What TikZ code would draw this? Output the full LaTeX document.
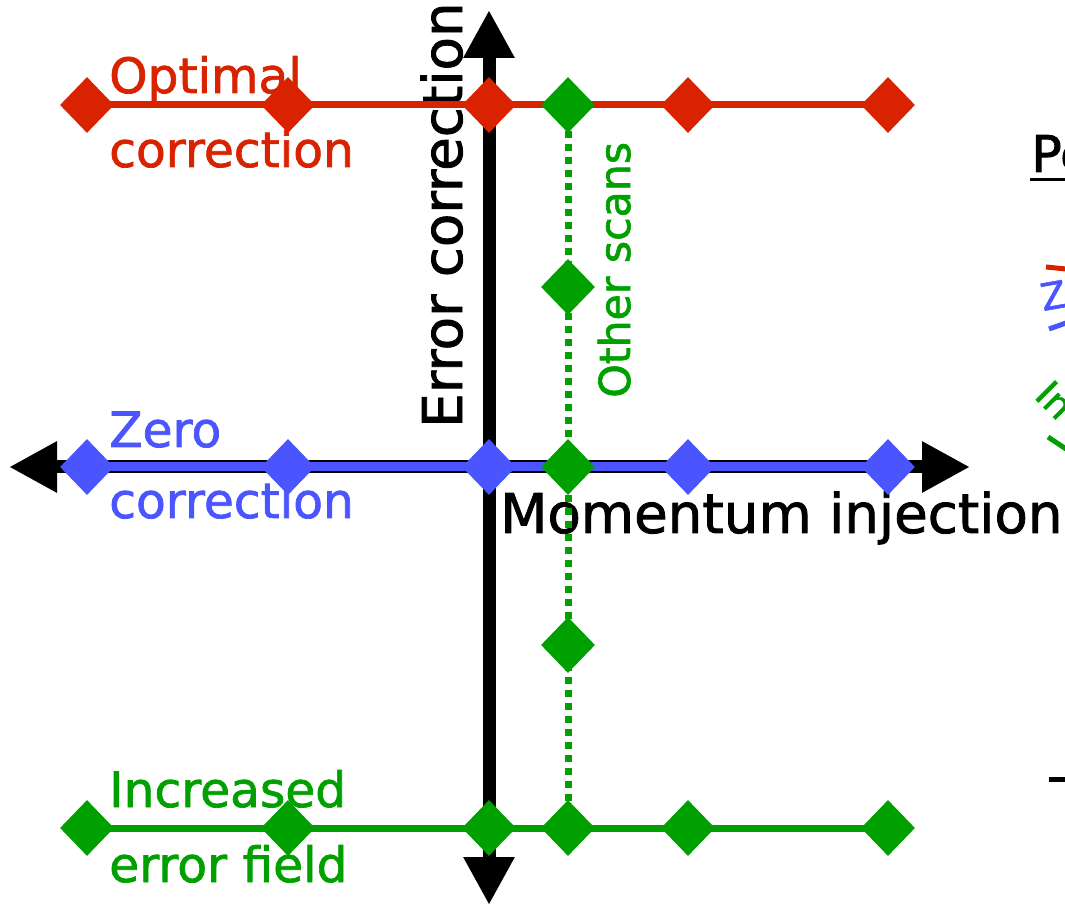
\documentclass[tikz,border=0pt]{standalone}
\usepackage{fontspec}
\setmainfont{DejaVu Sans}[FakeBold=1.5]
\usetikzlibrary{arrows.meta,shapes.geometric}
\definecolor{ored}{RGB}{217,34,0}
\definecolor{oblue}{RGB}{74,84,255}
\definecolor{ogreen}{RGB}{0,160,0}
\tikzset{
  dia/.style={shape=diamond, fill=#1, draw=none, minimum width=40.5pt, minimum height=42pt, inner sep=0pt},
  vaxis/.style={line width=9.75pt, {Triangle[length=36pt,width=36pt]}-{Triangle[length=36pt,width=36pt]}},
  haxis/.style={line width=9.75pt, {Triangle[length=36pt,width=36pt]}-{Triangle[length=36pt,width=36pt]}},
  series/.style={line width=#1},
  scanline/.style={ogreen, line width=5.25pt, dash pattern=on 5.25pt off 4.5pt},
  lab/.style={anchor=base west, inner sep=0pt, font=\fontsize{36.5pt}{44pt}\selectfont},
  axlab/.style={anchor=base west, inner sep=0pt, font=\fontsize{41pt}{48pt}\selectfont},
  legmark/.style={line width=3.75pt}
}
\begin{document}
\begin{tikzpicture}[x=0.75pt,y=-0.75pt]
\useasboundingbox (0,0) rectangle (1065,905);
\clip (0,0) rectangle (1065,905);
% coordinates
\coordinate (r1) at (87,105);  \coordinate (r2) at (288,105); \coordinate (r3) at (489,105);
\coordinate (g0) at (568,105); \coordinate (r4) at (688,105); \coordinate (r5) at (888,105);
\coordinate (b1) at (87,467);  \coordinate (b2) at (288,467); \coordinate (b3) at (489,467);
\coordinate (gb) at (568,467); \coordinate (b4) at (688,467); \coordinate (b5) at (888,467);
\coordinate (k1) at (87,828);  \coordinate (k2) at (288,828); \coordinate (k3) at (489,828);
\coordinate (k4) at (568,828); \coordinate (k5) at (688,828); \coordinate (k6) at (888,828);
\coordinate (s1) at (568,287); \coordinate (s2) at (568,645);
\coordinate (axt) at (489,10); \coordinate (axb) at (489,905);
\coordinate (axl) at (9,467);  \coordinate (axr) at (970,467);
% axes
\draw[vaxis] (axb) -- (axt);
\draw[haxis] (axl) -- (axr);
% axis labels
\node[axlab, rotate=90] (ylab) at (462,428) {Error correction};
\node[axlab] (xlab) at (500,533) {Momentum injection};
% series labels
\node[lab, text=ored] (opt1) at (109,93) {Optimal};
\node[lab, text=ored] (opt2) at (109,167) {correction};
\node[lab, text=oblue] (zer1) at (109,447) {Zero};
\node[lab, text=oblue] (zer2) at (109,518) {correction};
\node[lab, text=ogreen] (inc1) at (109,807) {Increased};
\node[lab, text=ogreen] (inc2) at (109,882) {error field};
\node[anchor=base west, inner sep=0pt, rotate=90, text=ogreen, font=\fontsize{32pt}{38pt}\selectfont] (oth) at (630,398) {Other scans};
% series lines
\draw[oblue, series=6.75pt] (b1) -- (b5);
\draw[ored, series=5.25pt] (r1) -- (r5);
\draw[ogreen, series=5.25pt] (k1) -- (k6);
\draw[scanline] (g0) -- (k4);
% diamonds
\foreach \p in {r1,r2,r3,r4,r5} \node[dia=ored] (D\p) at (\p) {};
\foreach \p in {b1,b2,b3,b4,b5} \node[dia=oblue] (D\p) at (\p) {};
\foreach \p in {k1,k2,k3,k4,k5,k6,g0,gb,s1,s2} \node[dia=ogreen] (D\p) at (\p) {};
% cut-off legend on the right edge
\node[anchor=base west, inner sep=0pt, font=\fontsize{38pt}{44pt}\selectfont] (pe) at (1031,172) {Pe};
\coordinate (ul1) at (1030,180); \coordinate (ul2) at (1065,180);
\draw[line width=2.25pt] (ul1) -- (ul2);
\coordinate (m1a) at (1046,267); \coordinate (m1b) at (1066,269);
\draw[ored, legmark] (m1a) -- (m1b);
\node[anchor=base west, inner sep=0pt, rotate=10, text=oblue, font=\fontsize{28pt}{34pt}\selectfont] (ze) at (1043,311) {Ze};
\coordinate (m2a) at (1049,329); \coordinate (m2b) at (1066,323);
\draw[oblue, legmark] (m2a) -- (m2b);
\node[anchor=base west, inner sep=0pt, rotate=-45, text=ogreen, font=\fontsize{28pt}{34pt}\selectfont] (in) at (1033,397) {In};
\coordinate (m3a) at (1048,437); \coordinate (m3b) at (1066,449);
\draw[ogreen, legmark] (m3a) -- (m3b);
\coordinate (m4a) at (1049,779); \coordinate (m4b) at (1066,779);
\draw[legmark] (m4a) -- (m4b);
\end{tikzpicture}
\end{document}
